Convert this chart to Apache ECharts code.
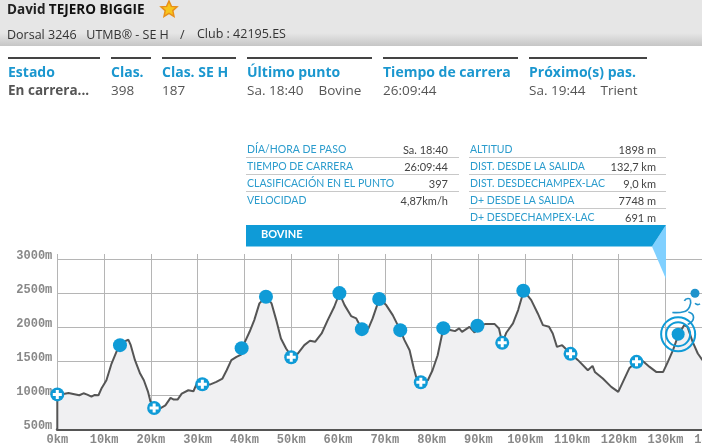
<!DOCTYPE html>
<html><head><meta charset="utf-8"><style>html,body{margin:0;padding:0;background:#fff}#c{width:702px;height:448px}</style>
<script src="https://cdn.jsdelivr.net/npm/echarts@6/dist/echarts.min.js"></script></head>
<body><div id="c"></div><script>
const profileKm=[0,0,1.3,2.4,3.4,4.7,5.6,6.4,7.3,8.0,8.8,9.5,10.5,11.6,12.7,14.1,15.2,15.7,16.6,17.7,18.5,19.4,19.9,20.9,21.9,23.1,24.2,24.9,25.7,26.6,28.0,29.1,29.8,31.0,32.6,34.0,35.3,36.2,37.2,38.3,39.3,40.1,41.1,42.1,43.2,44.6,45.8,46.8,47.8,48.9,50.1,51.4,52.8,54.0,55.1,56.5,57.8,59.2,60.3,61.4,62.8,63.9,65.1,66.5,67.4,68.8,70.3,71.7,73.3,74.2,75.3,76.2,76.7,77.7,79.2,80.2,81.3,82.5,84.2,85.0,85.9,86.5,88.1,89.2,90,91.4,93.5,94.4,95.1,96,97.4,98.5,99.7,101.3,102.7,103.8,105.1,105.9,106.8,107.9,109.7,111.3,113.4,114.4,114.9,116.6,118.4,119.9,120.9,122.3,123.8,125.2,126.6,128,129.5,130.5,131.6,132.8,134,134.7,135.8,136.9,137.9];
const profileAlt=[500,1012,1017,1031,1017,997,1026,1007,977,1002,997,1105,1218,1464,1646,1784,1814,1735,1514,1317,1218,1046,908,825,800,849,958,933,933,1022,1071,1056,1169,1159,1154,1194,1243,1366,1514,1563,1597,1784,1932,2104,2350,2448,2350,2104,1833,1686,1563,1612,1735,1799,1784,1907,2104,2301,2498,2325,2163,2129,1971,1981,2129,2414,2325,2178,1956,1809,1661,1390,1268,1194,1218,1366,1587,1981,1956,1942,1981,1932,2005,1922,2015,2045,2045,1981,1769,1922,2055,2252,2537,2399,2202,2030,2005,1907,1710,1735,1612,1514,1366,1430,1341,1243,1120,1046,1194,1400,1489,1499,1415,1341,1341,1489,1661,1897,2030,2005,1784,1612,1514];
const passedPoints=[[13.4,1735],[39.4,1691],[44.6,2448],[60.3,2502],[65.1,1971],[68.8,2414],[73.3,1956],[82.5,1986],[89.8,2020],[99.6,2537]];
const plusPoints=[[0,1010],[20.7,810],[31,1159],[50,1558],[77.7,1189],[95.1,1769],[109.7,1607],[123.8,1489]];
const currentPoint=[132.7,1897];
const runnerPoint=[136.3,2500];
const yTicks=[500,1000,1500,2000,2500,3000];
const titleText={name:'David',surname:'TEJERO BIGGIE',line2:'Dorsal 3246   UTMB® - SE H',sep:'/',club:'Club : 42195.ES'};
const statusHeads=['Estado','Clas.','Clas. SE H','Último punto','Tiempo de carrera','Próximo(s) pas.'];
const statusVals=[['En carrera...'],['398'],['187'],['Sa. 18:40','Bovine'],['26:09:44'],['Sa. 19:44','Trient']];
const leftRows=[['DÍA/HORA DE PASO','Sa. 18:40'],['TIEMPO DE CARRERA','26:09:44'],['CLASIFICACIÓN EN EL PUNTO','397'],['VELOCIDAD','4,87km/h']];
const rightRows=[['ALTITUD','1898 m'],['DIST. DESDE LA SALIDA','132,7 km'],['DIST. DESDECHAMPEX-LAC','9,0 km'],['D+ DESDE LA SALIDA','7748 m'],['D+ DESDECHAMPEX-LAC','691 m']];
const placeName='BOVINE';

const BLUE='#0f9bd7',UI='Lato, "Open Sans", sans-serif',OS='"Open Sans"';
const g=[];
const T=(x,y,text,o={})=>g.push({type:'text',x,y,z:o.z||5,style:{text,fill:o.c||'#444',font:(o.w||'normal')+' '+(o.s||12)+'px '+(o.f||UI),textAlign:o.a||'left',textVerticalAlign:'middle'}});
const R=(x,y,w,h,fill)=>g.push({type:'rect',shape:{x,y,width:w,height:h},style:{fill},z:1});
g.push({type:'rect',shape:{x:0,y:0,width:702,height:46},z:1,style:{fill:{type:'linear',x:0,y:0,x2:0,y2:1,colorStops:[{offset:0,color:'#e6e6e6'},{offset:.72,color:'#e6e6e6'},{offset:1,color:'#c6c6c6'}]}}});
g.push({type:'text',x:7,y:10,z:5,style:{rich:{a:{font:'bold 13.5px "Open Sans"',fill:'#222'},b:{font:'bold 13.5px "Open Sans"',fill:'#111'}},text:'{a|'+titleText.name+'} {b|'+titleText.surname+'}',textVerticalAlign:'middle'}});
g.push({type:'polygon',z:5,shape:{points:[[169,1],[171.4,6.4],[177,6.8],[172.8,10.6],[174,16.4],[169,13.4],[164,16.4],[165.2,10.6],[161,6.8],[166.6,6.4]]},style:{fill:'#f7c51c',stroke:'#e8901a',lineWidth:1.5}});
T(7,35,titleText.line2,{s:12.5,f:OS,c:'#333'});
T(180,35,titleText.sep,{s:12.5,f:OS,c:'#333'});
T(197,34,titleText.club,{s:12.5,f:OS,c:'#333'});
const cols=[[8,100],[111,151],[162,236],[247,372],[383,518],[529,647]];
cols.forEach((c,i)=>{
 R(c[0],57,c[1]-c[0],2,'#444');
 T(c[0],73,statusHeads[i],{c:'#1b97cf',w:'bold',s:14,f:OS});
 statusVals[i].forEach((v,j)=>T(c[0]+j*71.5,91,v,{w:i==0?'bold':'normal',s:13.5,f:OS,c:'#555'}));
});
leftRows.forEach((r,i)=>{const y=150+i*17;
 T(247,y,r[0],{s:10.5,c:'#2b9ccd'});T(448,y,r[1],{s:11,a:'right',c:'#444'});
 if(i<3)R(246,y+7,213,1,'#c8c8c8');});
rightRows.forEach((r,i)=>{const y=150+i*17;
 T(470,y,r[0],{s:10.5,c:'#2b9ccd'});T(656,y,r[1],{s:11,a:'right',c:'#444'});
 if(i<4)R(469,y+7,197,1,'#c8c8c8');});
g.push({type:'polygon',z:2,shape:{points:[[666,225],[652,246.5],[666,279]]},style:{fill:'#80d0ff'}});
g.push({type:'polygon',z:2,shape:{points:[[246,225],[666,225],[652,246.5],[246,246.5]]},style:{fill:BLUE}});
T(261,234,placeName,{c:'#fff',w:'bold',s:11,z:6});

const chart=echarts.init(document.getElementById('c'),null,{renderer:'canvas'});
const plusSym='path://M4 0H8V4H12V8H8V12H4V8H0V4H4Z';
const runnerSym='path://M118 62C122 54 130 54 136 56M136 58C140 70 132 92 116 94C105 97 92 97 82 96M150 69C155 74 160 74 165 71M130 95C150 100 152 120 128 132';
const labelFont={color:'#888',fontFamily:'Liberation Mono',fontWeight:'bold',fontSize:12};
chart.setOption({animation:false,backgroundColor:'#fff',graphic:g,
 grid:{left:57.3,right:-10.3,top:254,bottom:19,outerBoundsMode:'none'},
 xAxis:{type:'value',min:0,max:140,interval:10,
  axisLine:{show:true,onZero:false,lineStyle:{color:'#555',width:3}},axisTick:{show:false},
  axisLabel:{...labelFont,formatter:v=>v+'km',margin:5,hideOverlap:false,showMaxLabel:true},
  splitLine:{show:true,lineStyle:{color:'#b5b5b5',width:1}}},
 yAxis:{type:'value',min:500,max:3078,
  axisLine:{show:false},
  axisTick:{show:false,customValues:yTicks},
  axisLabel:{...labelFont,customValues:yTicks,formatter:v=>v+'m',margin:5,verticalAlign:'bottom',lineHeight:6},
  splitLine:{show:true,lineStyle:{color:'#b5b5b5',width:1}}},
 series:[
  {type:'line',data:profileKm.map((k,i)=>[k,profileAlt[i]]),symbol:'none',z:3,clip:false,
   lineStyle:{color:'#555',width:2},areaStyle:{color:'#f0f0f2',opacity:1}},
  {type:'scatter',data:passedPoints,symbol:'circle',symbolSize:14,itemStyle:{color:BLUE,opacity:1},z:4},
  {type:'scatter',data:plusPoints,symbol:'circle',symbolSize:14,itemStyle:{color:BLUE,opacity:1},z:4,clip:false},
  {type:'scatter',data:plusPoints,symbol:plusSym,symbolSize:9,itemStyle:{color:'#fff',opacity:1},z:5,clip:false},
  {type:'scatter',data:[currentPoint],symbol:'circle',symbolSize:13,itemStyle:{color:BLUE,opacity:1},z:5},
  {type:'scatter',data:[currentPoint,currentPoint],symbol:'circle',symbolSize:(v,p)=>p.dataIndex?34:24,itemStyle:{color:'none',borderColor:BLUE,borderWidth:2,opacity:1},z:5},
  {type:'scatter',data:[runnerPoint],symbol:'circle',symbolSize:9,itemStyle:{color:'#1f93cc',opacity:1},z:5},
  {type:'scatter',data:[runnerPoint],symbol:runnerSym,symbolSize:[27.7,26],symbolOffset:[-8.8,18.3],itemStyle:{color:'none',borderColor:'#1f93cc',borderWidth:1.6,opacity:1},z:5}
 ]});
</script></body></html>
